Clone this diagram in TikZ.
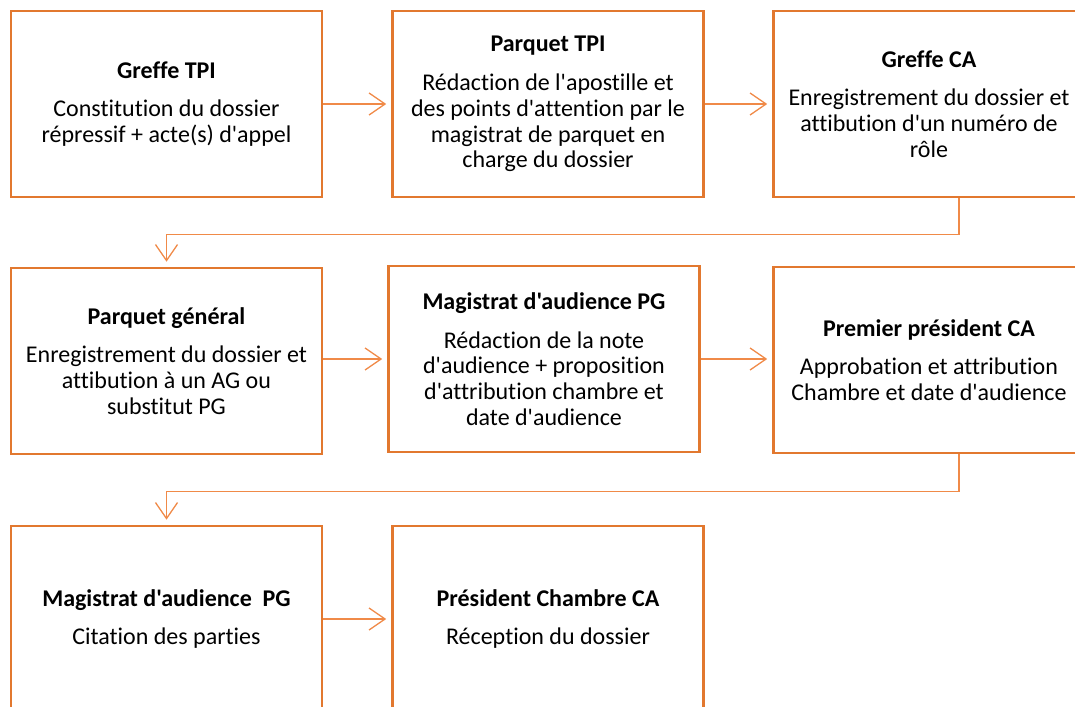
\documentclass[tikz,border=0pt]{standalone}
\usepackage{fontspec}
\setmainfont{Carlito}[Ligatures={TeXOff,NoCommon}]
\usetikzlibrary{arrows.meta}
\definecolor{boxorange}{HTML}{E2782F}
\definecolor{lineorange}{HTML}{F08A48}
\tikzset{
  stepbox/.style={draw=boxorange, line width=2.6pt, fill=white, minimum width=311pt, minimum height=186pt,
    inner sep=0pt, align=center, font=\fontsize{24}{25.8}\selectfont, text=black},
  conn/.style={draw=lineorange, line width=1.3pt, shorten >=5pt,
    -{Straight Barb[length=16pt,width=22pt,line width=1.3pt]}},
}
\newcommand{\ttl}[1]{{\bfseries #1}\\[13pt]}
\begin{document}
\begin{tikzpicture}[x=1pt,y=-1pt]
\useasboundingbox (0,0) rectangle (1075,706);
\clip (0,0) rectangle (1075,706);
\node[stepbox] (b1) at (166.5,104) {\ttl{Greffe TPI}Constitution du dossier\\répressif + acte(s) d'appel};
\node[stepbox] (b2) at (548,104) {\ttl{Parquet TPI}Rédaction de l'apostille et\\des points d'attention par le\\magistrat de parquet en\\charge du dossier};
\node[stepbox] (b3) at (929,104) {\ttl{Greffe CA}Enregistrement du dossier et\\attibution d'un numéro de\\rôle};
\node[stepbox] (b4) at (166.5,361) {\ttl{Parquet général}Enregistrement du dossier et\\attibution à un AG ou\\substitut PG};
\node[stepbox] (b5) at (544,359) {\ttl{Magistrat d'audience PG}Rédaction de la note\\d'audience + proposition\\d'attribution chambre et\\date d'audience};
\node[stepbox] (b6) at (929,360) {\ttl{Premier président CA}Approbation et attribution\\Chambre et date d'audience};
\node[stepbox] (b7) at (166.5,619) {\ttl{Magistrat d'audience\ \ PG}Citation des parties};
\node[stepbox] (b8) at (548,619) {\ttl{Président Chambre CA}Réception du dossier};

\draw[conn] (b1.east) -- (b2.west);
\draw[conn] (b2.east) -- (b3.west);
\draw[conn] ([xshift=30pt]b3.south) -- ++(0,36) -| (b4.north);
\draw[conn] (b5.west -| b4.east) -- (b5.west);
\draw[conn] (b5.east) -- (b5.east -| b6.west);
\draw[conn] ([xshift=30pt]b6.south) -- ++(0,37) -| (b7.north);
\draw[conn] (b7.east) -- (b8.west);
\end{tikzpicture}
\end{document}
